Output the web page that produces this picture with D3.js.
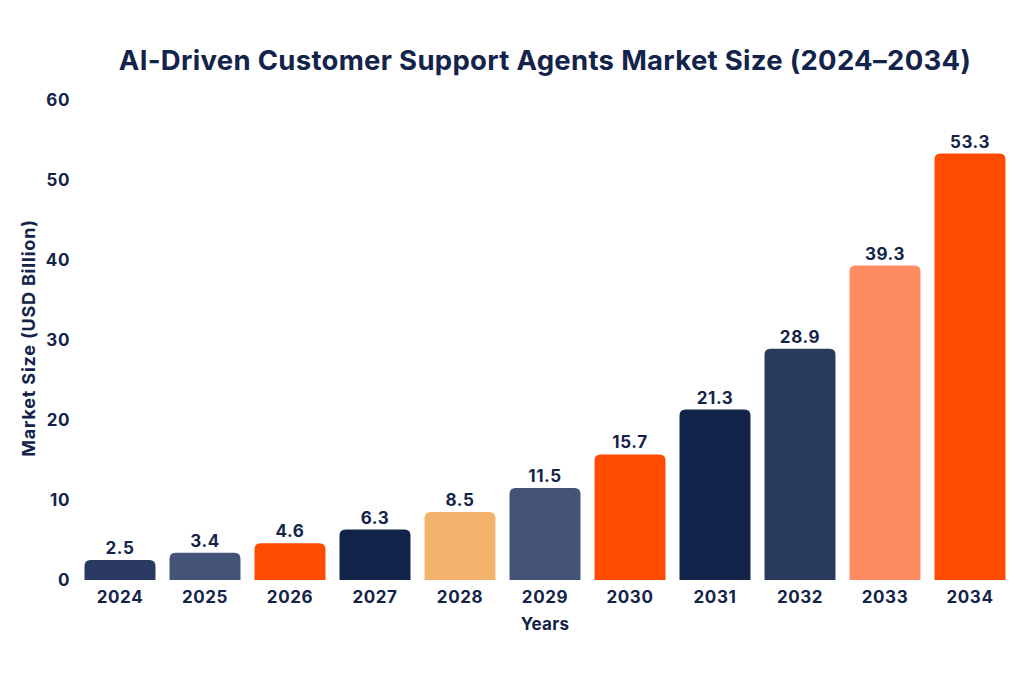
<!DOCTYPE html>
<html><head><meta charset="utf-8">
<script src="https://cdn.jsdelivr.net/npm/d3@7"></script>
<style>
body{margin:0;background:#fff;}
text{font-family:Inter, "Noto Sans", sans-serif;}
</style></head>
<body><svg id="c" width="1024" height="680"></svg>
<script>
const years = ["2024","2025","2026","2027","2028","2029","2030","2031","2032","2033","2034"];
const values = [2.5,3.4,4.6,6.3,8.5,11.5,15.7,21.3,28.9,39.3,53.3];
const colors = ["#2b3a62","#445479","#ff4b00","#13244a","#f2b26c","#445479","#ff4b00","#13244a","#293a5f","#ff8c61","#ff4b00"];
const yTicks = [0,10,20,30,40,50,60];
const title = "AI-Driven Customer Support Agents Market Size (2024–2034)";
const xTitle = "Years";
const yTitle = "Market Size (USD Billion)";
const ink = "#13234a";

const svg = d3.select("#c");
const x = d3.scaleBand().domain(years).range([77.5,1012.5]).paddingInner(0.165).paddingOuter(0.0825);
const y = d3.scaleLinear().domain([0,60]).range([580,100]);

svg.append("text").attr("x",545).attr("y",70).attr("text-anchor","middle")
  .attr("font-size",27.5).attr("font-weight",700).attr("fill",ink).attr("letter-spacing",0.3).text(title);

// y axis labels
const ya = svg.append("g").attr("transform","translate(70,0)")
  .call(d3.axisLeft(y).tickValues(yTicks).tickSize(0).tickPadding(0));
ya.select(".domain").remove();
ya.selectAll("text").attr("font-size",17).attr("font-weight",700).attr("fill",ink).attr("letter-spacing",0.6)
  .style("font-family","Inter, 'Noto Sans', sans-serif");

// x axis labels
const xa = svg.append("g").attr("transform","translate(0,591)")
  .call(d3.axisBottom(x).tickSize(0).tickPadding(0));
xa.select(".domain").remove();
xa.selectAll("text").attr("font-size",17).attr("font-weight",700).attr("fill",ink).attr("letter-spacing",0.6)
  .attr("dy","0.71em").style("font-family","Inter, 'Noto Sans', sans-serif");

const r = 6;
function barPath(d,i){
  const x0 = x(years[i]), w = x.bandwidth(), y0 = y(d), y1 = y(0);
  const rr = Math.min(r, (y1-y0));
  return `M${x0},${y1}V${y0+rr}Q${x0},${y0} ${x0+rr},${y0}H${x0+w-rr}Q${x0+w},${y0} ${x0+w},${y0+rr}V${y1}Z`;
}
svg.append("g").selectAll("path").data(values).join("path")
  .attr("d",barPath).attr("fill",(d,i)=>colors[i]);

svg.append("g").selectAll("text").data(values).join("text")
  .attr("x",(d,i)=>x(years[i])+x.bandwidth()/2).attr("y",d=>y(d)-6)
  .attr("text-anchor","middle").attr("font-size",17).attr("font-weight",700).attr("fill",ink).attr("letter-spacing",0.6)
  .text(d=>d.toFixed(1));

svg.append("text").attr("x",545).attr("y",630).attr("text-anchor","middle")
  .attr("font-size",17).attr("font-weight",700).attr("fill",ink).attr("letter-spacing",0.3).text(xTitle);
svg.append("text").attr("transform","translate(35,338) rotate(-90)").attr("text-anchor","middle")
  .attr("font-size",18).attr("font-weight",700).attr("fill",ink).attr("letter-spacing",0.8).text(yTitle);
</script></body></html>
